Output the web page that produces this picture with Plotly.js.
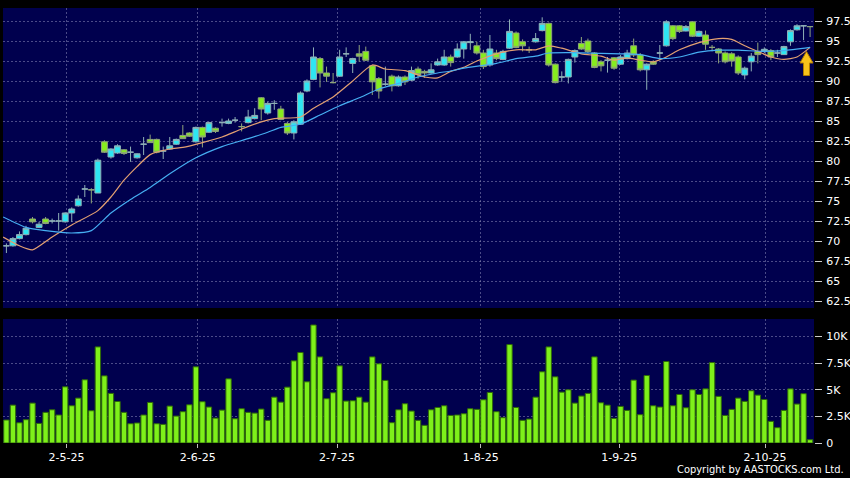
<!DOCTYPE html>
<html>
<head>
<meta charset="utf-8">
<script src="https://cdn.plot.ly/plotly-3.0.1.min.js"></script>
<style>
html,body{margin:0;padding:0;background:#000;}
#chart{width:850px;height:478px;}
</style>
</head>
<body>
<div id="chart"></div>
<script>
// ---- data (bar index = trading session) ----
const openP = [69.4,69.4,70.3,70.8,72.75,71.7,72.75,72.5,72.5,72.4,73.5,74.4,76.5,76.4,76.0,82.4,80.5,81.0,81.4,81.1,
80.4,82.1,82.7,82.7,81.25,81.5,82.1,83.2,83.5,82.4,84.2,83.6,84.1,84.8,84.7,85.1,84.3,84.8,85.3,87.9,
86.0,87.2,86.5,84.7,83.5,84.6,88.75,90.2,92.8,91.0,89.8,90.6,93.4,92.2,93.4,93.7,91.9,90.3,89.6,90.6,
89.4,90.5,90.1,91.5,91.2,91.0,92.0,92.0,93.0,93.0,94.0,94.8,94.4,93.5,92.0,93.5,92.7,94.1,96.0,94.9,
93.9,94.9,96.3,97.2,92.1,90.5,90.5,93.0,94.7,95.0,93.5,92.4,92.6,92.9,92.1,92.8,94.4,93.25,91.4,92.4,
93.5,94.4,96.9,96.9,96.25,97.4,95.6,95.75,94.2,94.0,93.5,93.4,93.0,90.75,92.4,93.7,93.7,93.8,93.5,93.3,
94.9,96.4,96.9,96.8];
const highP = [69.7,70.5,71.2,71.9,73.0,72.4,73.0,72.8,73.5,73.6,74.2,75.7,77.0,76.6,80.3,82.6,81.6,82.1,81.5,81.8,
80.95,83.0,83.3,82.8,81.8,83.0,82.8,84.5,83.6,84.3,84.3,84.9,84.2,85.3,85.3,85.5,84.7,86.4,86.6,88.0,
87.4,87.6,86.9,84.9,85.1,88.7,90.2,94.2,93.0,91.8,91.0,93.9,94.2,92.9,94.5,94.3,92.0,90.5,91.8,90.8,
90.7,90.7,91.8,91.8,91.4,92.2,92.8,93.9,93.3,94.7,95.0,95.9,94.9,93.9,95.75,93.9,93.9,97.7,96.2,95.2,
94.3,96.0,97.96,97.3,92.2,91.2,92.8,93.95,95.5,95.3,93.6,92.6,93.0,93.0,93.25,93.9,95.3,93.5,92.2,92.6,
94.5,97.6,97.0,97.0,97.0,97.5,96.3,96.3,94.5,94.1,93.7,93.6,93.2,91.8,93.5,94.8,94.2,94.0,93.9,94.4,
96.45,97.1,96.9,96.8];
const lowP = [68.5,69.3,70.2,70.7,72.2,71.6,72.1,72.2,71.3,72.3,72.4,74.3,75.5,74.7,76.0,81.0,80.3,80.9,80.75,79.9,
80.3,80.75,82.3,80.96,80.25,81.4,82.0,82.75,83.0,82.3,81.7,83.5,83.5,84.3,84.6,84.8,83.7,84.7,85.2,85.1,
85.8,86.4,85.1,83.25,82.7,84.5,88.6,90.1,89.2,89.9,89.7,90.5,93.0,91.0,92.4,92.5,88.25,87.8,89.4,88.7,
89.3,89.5,90.0,90.3,90.4,90.9,91.9,91.9,91.8,92.9,92.8,93.9,93.3,91.5,91.8,92.6,92.6,94.0,94.1,93.7,
93.5,94.8,96.2,91.8,89.7,89.9,89.7,92.3,93.9,93.5,91.6,91.2,91.05,91.4,92.0,92.7,93.0,91.2,88.9,92.0,
92.6,94.3,95.1,96.0,96.2,95.5,95.5,93.9,93.7,92.2,92.2,91.8,90.75,90.2,91.2,92.2,93.5,92.6,93.0,93.25,
94.4,96.3,95.1,95.5];
const closeP = [69.4,70.3,70.8,71.6,72.4,72.1,72.2,72.5,72.5,73.5,74.0,75.25,76.5,76.4,80.1,81.1,81.5,81.9,80.95,81.1,
80.9,82.1,82.3,81.1,81.25,81.9,82.7,82.8,83.1,84.2,83.0,84.8,83.7,84.8,85.0,85.1,84.3,85.5,85.7,86.5,
87.2,87.2,85.2,83.5,84.9,88.5,90.0,93.0,91.0,90.6,89.8,93.0,93.4,92.8,93.1,92.6,89.9,88.75,89.6,89.4,
90.5,89.9,91.3,90.8,91.0,91.4,92.4,93.0,92.3,94.0,94.9,94.9,93.5,91.8,94.0,92.8,93.7,96.2,94.2,94.4,
93.9,95.3,97.2,92.0,89.8,90.5,92.7,93.8,94.0,93.7,91.7,91.9,92.6,91.6,93.0,93.5,93.25,91.4,92.1,92.1,
93.5,97.4,95.3,96.2,96.8,95.6,96.2,94.6,94.2,93.5,92.4,92.5,91.0,91.6,93.1,93.3,93.96,93.0,93.5,94.3,
96.3,96.9,96.9,96.8];
// volume in thousands of shares
const volumeK = [2.16,3.56,1.9,2.19,3.75,1.84,2.88,3.12,2.63,5.28,3.5,4.22,5.94,3.03,9.03,6.31,4.66,3.9,2.88,1.81,
1.88,2.63,3.81,1.81,1.75,3.47,2.53,2.94,3.59,7.16,3.88,3.38,2.34,3.09,6.03,2.28,3.22,2.88,2.81,3.19,
2.13,4.31,3.84,5.25,7.72,8.5,5.75,11.09,8.09,4.16,4.72,7.25,3.94,3.97,4.31,3.84,8.09,7.44,5.88,1.91,
3.12,3.69,3.0,2.13,1.66,3.12,3.34,3.5,2.59,2.63,2.75,3.22,3.16,4.06,4.75,2.94,2.38,9.25,3.34,2.13,
2.25,4.31,6.69,9.03,6.22,4.78,5.0,3.75,4.41,4.66,8.09,3.78,3.56,2.31,3.44,3.06,5.91,2.66,6.34,3.5,
3.38,7.66,3.5,4.56,3.31,5.0,4.56,5.09,7.56,4.38,2.59,3.16,4.22,3.91,4.91,4.5,4.09,2.03,1.44,3.06,
5.09,3.66,4.63,0.31];
// moving averages (bar index, value)
const maShortX = [-0.5,2,4,7,10,14,16,18,20,22,25,27,30,33,36,39,41,45,47,50,53,56,58,61,64,66,68,70,72,75,78,81,83,85,88,91,93,95,97,99,101,103,106,109,111,113,115,117,119,121,123];
const maShortY = [70.5,69.4,68.9,70.5,72.0,73.8,75.5,77.6,79.3,80.8,81.5,81.7,82.3,83.0,84.0,84.9,85.3,85.5,86.6,88.0,90.0,92.0,91.5,91.3,90.5,90.4,91.2,91.7,92.5,93.4,93.9,93.9,94.4,94.1,93.4,93.1,92.6,92.9,92.6,92.4,93.0,93.9,94.8,95.3,95.2,94.4,93.7,93.0,92.7,93.0,94.2];
const maLongX = [-0.5,3,6,10,13,16,19,22,25,29,33,37,40,42,45,48,51,54,57,60,63,66,68,70,75,78,81,83,87,91,94,97,100,103,106,109,112,116,119,123];
const maLongY = [73.0,71.7,71.3,71.0,71.3,73.5,75.2,76.7,78.4,80.4,81.8,82.8,83.6,84.2,84.6,85.75,86.9,87.9,89.0,89.7,90.5,91.0,91.25,91.6,92.2,92.8,93.1,93.5,93.55,93.45,93.4,93.3,92.8,93.0,93.6,93.85,93.85,93.7,93.8,94.2];
const xTickLabels = ['2-5-25','2-6-25','2-7-25','1-8-25','1-9-25','2-10-25'];
const priceTicks = [62.5,65,67.5,70,72.5,75,77.5,80,82.5,85,87.5,90,92.5,95,97.5];
const volTicks = [0,2.5,5,7.5,10];
const volTickLabels = ['0','2.5K','5K','7.5K','10K'];

const idx = closeP.map((_, i) => i);
const FONT = 'DejaVu Sans, Verdana, sans-serif';
const GRID = 'rgba(125,125,175,0.6)';
const DASH = '2px,2px';

const traces = [
  {
    type: 'candlestick', x: idx, open: openP, high: highP, low: lowP, close: closeP,
    xaxis: 'x', yaxis: 'y',
    increasing: {fillcolor: '#2ee6f2', line: {color: '#8fb0b6', width: 1}},
    decreasing: {fillcolor: '#86ec1e', line: {color: '#8fa47a', width: 1}},
    whiskerwidth: 0, hoverinfo: 'skip', showlegend: false
  },
  {
    type: 'scatter', mode: 'lines', x: maShortX, y: maShortY, xaxis: 'x', yaxis: 'y',
    line: {color: '#e3a072', width: 1.2, shape: 'spline', smoothing: 0.6}, hoverinfo: 'skip', showlegend: false
  },
  {
    type: 'scatter', mode: 'lines', x: maLongX, y: maLongY, xaxis: 'x', yaxis: 'y',
    line: {color: '#46aef2', width: 1.2, shape: 'spline', smoothing: 0.6}, hoverinfo: 'skip', showlegend: false
  },
  {
    type: 'bar', x: idx, y: volumeK, xaxis: 'x', yaxis: 'y2',
    marker: {color: '#7ef01a', line: {color: '#2f6a08', width: 1}},
    hoverinfo: 'skip', showlegend: false
  }
];

// plot-area pixel helpers for decorative overlay
const PL = 3.3, PR = 814, PT = 8, PB = 443;
const px = v => (v - PL) / (PR - PL);
const py = v => (PB - v) / (PB - PT);
const arrowPath = 'M ' + px(806.5) + ',' + py(51.5) +
  ' L ' + px(813) + ',' + py(63) + ' L ' + px(809.5) + ',' + py(63) +
  ' L ' + px(809.5) + ',' + py(75.5) + ' L ' + px(803.5) + ',' + py(75.5) +
  ' L ' + px(803.5) + ',' + py(63) + ' L ' + px(800) + ',' + py(63) + ' Z';

const layout = {
  width: 850, height: 478,
  margin: {l: PL, r: 850 - PR, t: PT, b: 478 - PB},
  paper_bgcolor: '#000000', plot_bgcolor: '#00004e',
  bargap: 0.18, boxgap: 0.1, boxgroupgap: 0,
  font: {family: FONT, size: 11, color: '#ffffff'},
  xaxis: {
    range: [-0.52, 123.6], anchor: 'y2', rangeslider: {visible: false},
    tickmode: 'array', tickvals: [9.2, 29.3, 50.6, 72.6, 93.8, 116.1], ticktext: xTickLabels,
    showgrid: true, gridcolor: GRID, griddash: DASH, gridwidth: 1,
    ticks: 'outside', ticklen: 4, tickcolor: '#bbbbbb', zeroline: false, showline: false,
    tickfont: {family: FONT, size: 11, color: '#ffffff'}, fixedrange: true
  },
  yaxis: {
    domain: [0.3103, 1], range: [61.625, 99.125], side: 'right', anchor: 'x',
    tickmode: 'array', tickvals: priceTicks,
    showgrid: true, gridcolor: GRID, griddash: DASH, gridwidth: 1,
    ticks: 'outside', ticklen: 7, tickcolor: '#cccccc', zeroline: false, showline: false,
    tickfont: {family: FONT, size: 11, color: '#ffffff'}, ticklabelstandoff: 2
  },
  yaxis2: {
    domain: [0, 0.285], range: [0, 11.65], side: 'right', anchor: 'x',
    tickmode: 'array', tickvals: volTicks, ticktext: volTickLabels,
    showgrid: true, gridcolor: GRID, griddash: DASH, gridwidth: 1,
    ticks: 'outside', ticklen: 7, tickcolor: '#cccccc', zeroline: false, showline: false,
    tickfont: {family: FONT, size: 11, color: '#ffffff'}, ticklabelstandoff: 2
  },
  shapes: [{
    type: 'path', xref: 'paper', yref: 'paper', path: arrowPath,
    fillcolor: '#f7c21a', line: {color: '#b07a00', width: 1}
  }],
  annotations: [{
    text: 'Copyright by AASTOCKS.com Ltd.', xref: 'paper', yref: 'paper',
    x: px(846), y: py(470), xanchor: 'right', yanchor: 'middle', showarrow: false,
    font: {family: 'DejaVu Sans Condensed, Liberation Sans Narrow, ' + FONT, size: 11, color: '#ffffff'}
  }]
};

Plotly.newPlot('chart', traces, layout, {staticPlot: true, displayModeBar: false});
</script>
</body>
</html>
